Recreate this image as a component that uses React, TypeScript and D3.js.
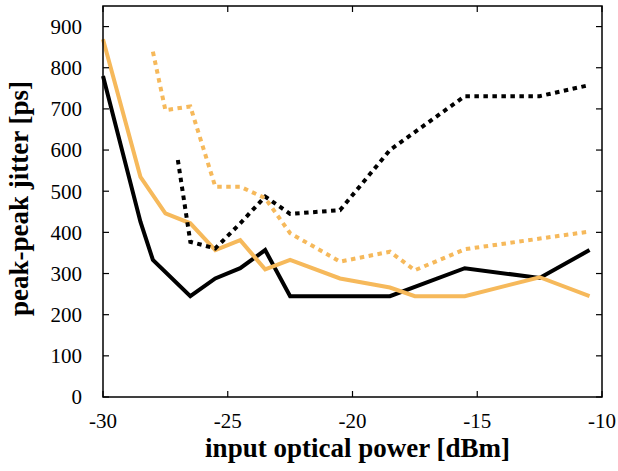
import { useEffect, useRef } from 'react';
import * as d3 from 'd3';

// measured points: [input power dBm, jitter ps]
const blackSolid: [number, number][] = [
  [-30, 780], [-28.5, 426], [-28, 333], [-26.5, 245], [-25.5, 288], [-24.5, 313],
  [-23.5, 357], [-22.5, 245], [-18.5, 245], [-15.5, 313], [-12.5, 289], [-10.5, 357],
];
const orangeSolid: [number, number][] = [
  [-30, 869], [-28.5, 535], [-27.5, 446], [-26.5, 422], [-25.5, 357], [-24.5, 381],
  [-23.5, 310], [-22.5, 333], [-20.5, 288], [-18.5, 266], [-17.5, 245], [-15.5, 245],
  [-12.5, 291], [-10.5, 245],
];
const blackDotted: [number, number][] = [
  [-27, 576], [-26.5, 377], [-25.5, 361], [-24.5, 422], [-23.5, 487], [-22.5, 445],
  [-20.5, 454], [-18.5, 600], [-15.5, 731], [-12.5, 731], [-10.5, 758],
];
const orangeDotted: [number, number][] = [
  [-28, 839], [-27.5, 697], [-26.5, 706], [-25.5, 511], [-24.5, 511], [-23.5, 483],
  [-22.5, 398], [-20.5, 329], [-18.5, 353], [-17.5, 308], [-15.5, 359], [-10.5, 402],
];
const xTicks = [-30, -25, -20, -15, -10];
const yTicks = [0, 100, 200, 300, 400, 500, 600, 700, 800, 900];

const ORANGE = '#f6b95b';
const FONT = "'Liberation Serif', 'Times New Roman', Times, 'DejaVu Serif', serif";

export default function App() {
  const ref = useRef<SVGSVGElement>(null);

  useEffect(() => {
    const W = 618, H = 471;
    const margin = { top: 6, right: 16, bottom: 74, left: 103 };
    const width = W - margin.left - margin.right;
    const height = H - margin.top - margin.bottom;

    const svg = d3.select(ref.current);
    svg.selectAll('*').remove();

    const g = svg.append('g').attr('transform', `translate(${margin.left},${margin.top})`);

    const x = d3.scaleLinear().domain([-30, -10]).range([0, width]);
    const y = d3.scaleLinear().domain([0, 950]).range([height, 0]);

    const line = d3.line<[number, number]>().x(d => x(d[0])).y(d => y(d[1]));

    const series = [
      { data: blackSolid, color: '#000', dash: null },
      { data: orangeSolid, color: ORANGE, dash: null },
      { data: blackDotted, color: '#000', dash: '4.5,4.5' },
      { data: orangeDotted, color: ORANGE, dash: '4.5,4.5' },
    ];

    series.forEach(s => {
      g.append('path')
        .datum(s.data)
        .attr('fill', 'none')
        .attr('stroke', s.color)
        .attr('stroke-width', 4)
        .attr('stroke-dasharray', s.dash)
        .attr('d', line);
    });

    // ticks inside the frame, mirrored on both sides
    const tickLen = 6;
    yTicks.forEach(t => {
      g.append('line').attr('x1', 0).attr('x2', tickLen).attr('y1', y(t)).attr('y2', y(t))
        .attr('stroke', '#000').attr('stroke-width', 1.2);
      g.append('line').attr('x1', width).attr('x2', width - tickLen).attr('y1', y(t)).attr('y2', y(t))
        .attr('stroke', '#000').attr('stroke-width', 1.2);
      g.append('text').attr('x', -21).attr('y', y(t)).attr('dy', '0.35em')
        .attr('text-anchor', 'end').style('font-family', FONT).style('font-size', '21px')
        .text(t);
    });
    xTicks.forEach(t => {
      g.append('line').attr('x1', x(t)).attr('x2', x(t)).attr('y1', height).attr('y2', height - tickLen)
        .attr('stroke', '#000').attr('stroke-width', 1.2);
      g.append('line').attr('x1', x(t)).attr('x2', x(t)).attr('y1', 0).attr('y2', tickLen)
        .attr('stroke', '#000').attr('stroke-width', 1.2);
      g.append('text').attr('x', x(t)).attr('y', height + 31)
        .attr('text-anchor', 'middle').style('font-family', FONT).style('font-size', '21px')
        .text(t);
    });

    g.append('rect').attr('width', width).attr('height', height)
      .attr('fill', 'none').attr('stroke', '#000').attr('stroke-width', 1.5);

    g.append('text')
      .attr('x', x(-20) + 5).attr('y', height + 60)
      .attr('text-anchor', 'middle').style('font-family', FONT)
      .style('font-size', '27px').style('font-weight', 'bold')
      .text('input optical power [dBm]');

    g.append('text')
      .attr('transform', `translate(${-75},${y(475) - 3}) rotate(-90)`)
      .attr('text-anchor', 'middle').style('font-family', FONT)
      .style('font-size', '27px').style('font-weight', 'bold')
      .text('peak-peak jitter [ps]');
  }, []);

  return (
    <svg ref={ref} width={618} height={471}
      style={{ position: 'absolute', left: 0, top: 0, background: '#fff' }} />
  );
}
